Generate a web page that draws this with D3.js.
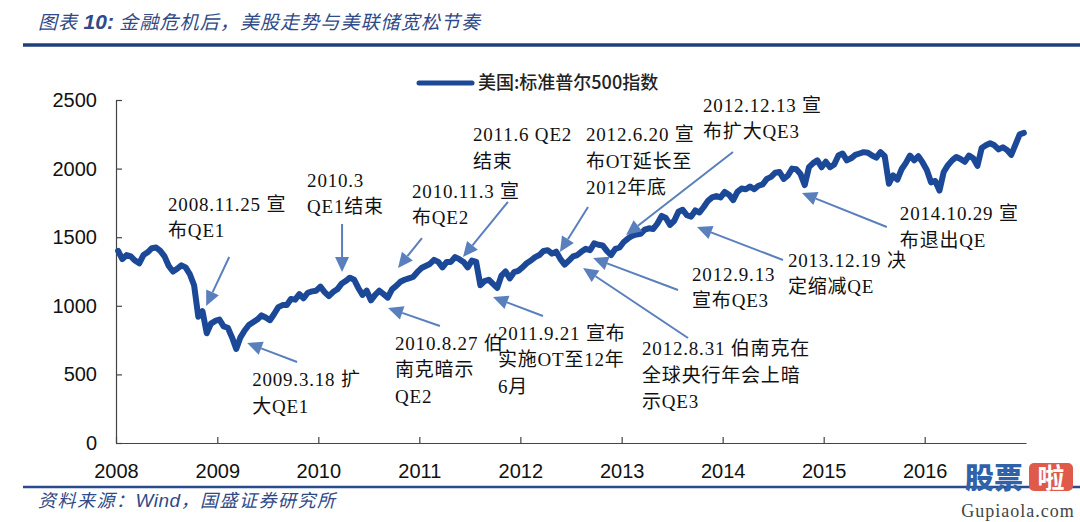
<!DOCTYPE html>
<html>
<head>
<meta charset="utf-8">
<script src="https://cdn.jsdelivr.net/npm/d3@7"></script>
<style>
  body { margin: 0; background: #fff; }
  svg { display: block; }
</style>
</head>
<body>
<div id="chart"></div>
<script>
// S&P 500, two readings per month (first half, second half)
var sp2008 = [1400, 1340, 1370, 1360, 1330, 1310, 1370, 1390, 1420, 1425, 1400, 1360, 1290, 1250, 1270, 1295, 1280, 1230, 1150, 920, 960, 800, 870, 890];
var sp2009 = [900, 850, 840, 770, 685, 770, 820, 860, 880, 900, 930, 915, 895, 940, 990, 1005, 1005, 1050, 1045, 1085, 1055, 1095, 1105, 1110];
var sp2010 = [1140, 1100, 1070, 1100, 1120, 1160, 1180, 1205, 1190, 1130, 1080, 1110, 1040, 1080, 1110, 1085, 1060, 1120, 1145, 1175, 1190, 1200, 1210, 1245];
var sp2011 = [1275, 1290, 1305, 1335, 1320, 1280, 1320, 1320, 1355, 1340, 1320, 1280, 1330, 1320, 1150, 1180, 1190, 1160, 1130, 1220, 1250, 1200, 1245, 1255];
var sp2012 = [1280, 1310, 1330, 1355, 1370, 1400, 1405, 1380, 1395, 1340, 1300, 1330, 1360, 1370, 1395, 1415, 1405, 1455, 1445, 1440, 1400, 1370, 1415, 1425];
var sp2013 = [1465, 1490, 1510, 1520, 1525, 1555, 1565, 1560, 1600, 1655, 1640, 1590, 1620, 1685, 1700, 1660, 1650, 1695, 1680, 1720, 1765, 1790, 1800, 1790];
var sp2014 = [1830, 1810, 1770, 1830, 1855, 1850, 1870, 1850, 1875, 1885, 1925, 1940, 1970, 1975, 1925, 1950, 2000, 1995, 1960, 1880, 2010, 2040, 2060, 2010];
var sp2015 = [2050, 2010, 2030, 2095, 2110, 2060, 2075, 2100, 2110, 2120, 2115, 2095, 2080, 2120, 2090, 1890, 1950, 1920, 1995, 2040, 2095, 2060, 2090, 2045];
var sp2016 = [1990, 1900, 1910, 1840, 1975, 2025, 2060, 2085, 2070, 2050, 2095, 2075, 2020, 2150, 2170, 2185, 2170, 2140, 2155, 2135, 2100, 2175, 2250, 2260];

var years = [2008, 2009, 2010, 2011, 2012, 2013, 2014, 2015, 2016];
var yearValues = [sp2008, sp2009, sp2010, sp2011, sp2012, sp2013, sp2014, sp2015, sp2016];
var xTicks = ["2008", "2009", "2010", "2011", "2012", "2013", "2014", "2015", "2016"];
var yTicks = [0, 500, 1000, 1500, 2000, 2500];

var seriesName = "美国:标准普尔500指数";

// annotations: text anchor and arrow ends in (year, index value)
var notes = [
  {lines: ["2008.11.25 宣", "布QE1"], at: [2008.514, 1691], from: [2009.118, 1356], to: [2008.890, 999]},
  {lines: ["2010.3", "QE1结束"], at: [2009.889, 1866], from: [2010.235, 1596], to: [2010.235, 1246]},
  {lines: ["2009.3.18 扩", "大QE1"], at: [2009.345, 415], from: [2009.790, 590], to: [2009.296, 729]},
  {lines: ["2010.11.3 宣", "布QE2"], at: [2010.928, 1786], from: [2011.026, 1494], to: [2010.789, 1276]},
  {lines: ["2011.6 QE2", "结束"], at: [2011.531, 2201], from: [2011.877, 1757], to: [2011.432, 1356]},
  {lines: ["2012.6.20 宣", "布OT延长至", "2012年底"], at: [2012.648, 2201], from: [2012.668, 1720], to: [2012.391, 1392]},
  {lines: ["2012.12.13 宣", "布扩大QE3"], at: [2013.806, 2413], from: [2014.102, 2121], to: [2013.044, 1516]},
  {lines: ["2011.9.21 宣布", "实施OT至12年", "6月"], at: [2011.778, 751], from: [2012.223, 926], to: [2011.729, 1064]},
  {lines: ["2010.8.27 伯", "南克暗示", "QE2"], at: [2010.759, 678], from: [2011.204, 853], to: [2010.690, 984]},
  {lines: ["2012.8.31 伯南克在", "全球央行年会上暗", "示QE3"], at: [2013.202, 641], from: [2013.657, 765], to: [2012.619, 1276]},
  {lines: ["2012.9.13", "宣布QE3"], at: [2013.697, 1181], from: [2013.558, 1115], to: [2012.718, 1348]},
  {lines: ["2013.12.19 决", "定缩减QE"], at: [2014.646, 1283], from: [2014.597, 1334], to: [2013.746, 1574]},
  {lines: ["2014.10.29 宣", "布退出QE"], at: [2015.754, 1625], from: [2015.625, 1574], to: [2014.785, 1822]}
];

function yr(d) {
  var y = Math.floor(d);
  var a = new Date(y, 0, 1), b = new Date(y + 1, 0, 1);
  return new Date(+a + (d - y) * (b - a));
}

var data = [];
years.forEach(function(y, k) {
  yearValues[k].forEach(function(v, i) {
    data.push({date: yr(y + (i + 0.5) / 24), value: v});
  });
});

var W = 1080, H = 522;
var lineColor = "#1c4898";
var arrowColor = "#5a7fbd";
var cjkSerif = "'Liberation Serif', 'Noto Sans CJK SC', serif";

var svg = d3.select("#chart").append("svg").attr("width", W).attr("height", H);

// title + rules
var tt = svg.append("text")
  .attr("x", 38).attr("y", 29)
  .attr("font-family", "'Noto Sans CJK SC', sans-serif")
  .attr("font-size", 19).attr("font-style", "italic")
  .attr("letter-spacing", 1.1)
  .attr("fill", "#2f4a87");
tt.append("tspan").text("图表 ");
tt.append("tspan").attr("font-family", "'Liberation Sans', sans-serif")
  .attr("font-weight", "bold").attr("font-size", 21).attr("letter-spacing", 0).text("10:");
tt.append("tspan").text("  金融危机后，美股走势与美联储宽松节奏");

svg.append("line").attr("x1", 23).attr("x2", W).attr("y1", 45).attr("y2", 45)
  .attr("stroke", "#1f3f7a").attr("stroke-width", 3.5);
svg.append("line").attr("x1", 23).attr("x2", W).attr("y1", 487).attr("y2", 487)
  .attr("stroke", "#2b4c8c").attr("stroke-width", 2.5);
var st = svg.append("text")
  .attr("x", 38).attr("y", 507)
  .attr("font-family", "'Noto Sans CJK SC', sans-serif")
  .attr("font-size", 18).attr("font-style", "italic")
  .attr("letter-spacing", 1.5)
  .attr("fill", "#2f4a87");
st.append("tspan").text("资料来源：");
st.append("tspan").attr("font-family", "'Liberation Sans', sans-serif")
  .attr("font-size", 19).attr("letter-spacing", 0.5).text("Wind");
st.append("tspan").text("，国盛证券研究所");

var x = d3.scaleTime().domain([new Date(2008, 0, 1), new Date(2017, 0, 1)]).range([116, 1026]);
var y = d3.scaleLinear().domain([0, 2500]).range([443, 100]);

var gx = svg.append("g").attr("transform", "translate(0,443)")
  .call(d3.axisBottom(x)
    .tickValues(years.map(function(v) { return new Date(v, 0, 1); }))
    .tickFormat(function(d, i) { return xTicks[i]; })
    .tickSizeInner(-6).tickSizeOuter(0).tickPadding(21));
var gy = svg.append("g").attr("transform", "translate(116,0)")
  .call(d3.axisLeft(y).tickValues(yTicks).tickFormat(d3.format("d"))
    .tickSizeInner(-6).tickSizeOuter(0).tickPadding(19));

[gx, gy].forEach(function(g) {
  g.select(".domain").attr("stroke", "#444").attr("stroke-width", 1.2);
  g.selectAll(".tick line").attr("stroke", "#444").attr("stroke-width", 1.2);
  g.selectAll(".tick text")
    .attr("font-family", "'Liberation Sans', sans-serif")
    .attr("font-size", 20).attr("fill", "#111");
});

// series line
var line = d3.line()
  .x(function(d) { return x(d.date); })
  .y(function(d) { return y(d.value); });
svg.append("path").datum(data)
  .attr("d", line)
  .attr("fill", "none")
  .attr("stroke", lineColor)
  .attr("stroke-width", 6)
  .attr("stroke-linejoin", "round")
  .attr("stroke-linecap", "round");

// legend
svg.append("line").attr("x1", 419).attr("x2", 472).attr("y1", 83).attr("y2", 83)
  .attr("stroke", lineColor).attr("stroke-width", 5).attr("stroke-linecap", "round");
svg.append("text")
  .attr("x", 478).attr("y", 89)
  .attr("font-family", "'Noto Sans CJK SC', sans-serif")
  .attr("font-size", 18).attr("font-weight", 500).attr("fill", "#222")
  .text(seriesName);

// annotations
notes.forEach(function(n) {
  var x1 = x(yr(n.from[0])), y1 = y(n.from[1]);
  var x2 = x(yr(n.to[0])), y2 = y(n.to[1]);
  var dx = x2 - x1, dy = y2 - y1, len = Math.sqrt(dx * dx + dy * dy);
  var ux = dx / len, uy = dy / len, hl = 15, hw = 7;
  var bx = x2 - ux * hl, by = y2 - uy * hl;
  svg.append("line")
    .attr("x1", x1).attr("y1", y1).attr("x2", bx).attr("y2", by)
    .attr("stroke", arrowColor).attr("stroke-width", 2);
  svg.append("path")
    .attr("d", "M" + x2 + "," + y2 +
      "L" + (bx - uy * hw) + "," + (by + ux * hw) +
      "L" + (bx + uy * hw) + "," + (by - ux * hw) + "Z")
    .attr("fill", arrowColor);

  var t = svg.append("text")
    .attr("x", x(yr(n.at[0]))).attr("y", y(n.at[1]))
    .attr("font-family", cjkSerif)
    .attr("font-size", 19).attr("letter-spacing", 0.8).attr("fill", "#111");
  n.lines.forEach(function(s, i) {
    t.append("tspan").attr("x", x(yr(n.at[0]))).attr("dy", i === 0 ? 0 : 26.5).text(s);
  });
});

// watermark
svg.append("text").attr("x", 965).attr("y", 489)
  .attr("font-family", "'Noto Sans CJK SC', sans-serif")
  .attr("font-size", 29).attr("font-weight", 900).attr("fill", "#2f62a8")
  .text("股票");
svg.append("rect").attr("x", 1029).attr("y", 463).attr("width", 44).attr("height", 28)
  .attr("rx", 5).attr("fill", "#e05a4a");
svg.append("text").attr("x", 1051).attr("y", 488).attr("text-anchor", "middle")
  .attr("font-family", "'Noto Sans CJK SC', sans-serif")
  .attr("font-size", 27).attr("font-weight", 700).attr("fill", "#fff")
  .text("啦");
svg.append("text").attr("x", 1018).attr("y", 517).attr("text-anchor", "middle")
  .attr("font-family", "'Liberation Serif', serif")
  .attr("font-size", 18).attr("letter-spacing", 1).attr("fill", "#444")
  .text("Gupiaola.com");
</script>
</body>
</html>
